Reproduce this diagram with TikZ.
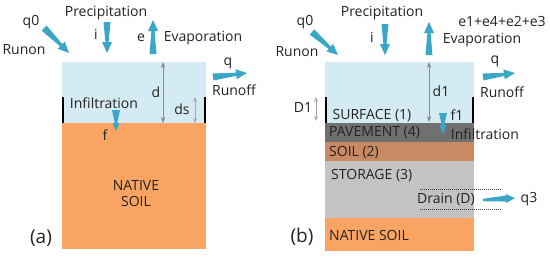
\documentclass[tikz,border=0pt]{standalone}
\usepackage{fontspec}
\setmainfont{Open Sans}
\usetikzlibrary{calc,arrows.meta}
\definecolor{water}{HTML}{D5EBF3}
\definecolor{native}{HTML}{F9A462}
\definecolor{pave}{HTML}{707070}
\definecolor{soilc}{HTML}{C98A63}
\definecolor{stor}{HTML}{C3C3C3}
\definecolor{flowc}{HTML}{3AA7C7}
\definecolor{txt}{HTML}{222222}
\definecolor{dimc}{HTML}{888888}
\definecolor{dimlc}{HTML}{A8A8A8}
% #1 tail, #2 tip, #3 tail half width, #4 neck half width, #5 head half width, #6 head length
\newcommand{\flowarrow}[6]{%
  \fill[flowc] ($(#1)!#3!90:(#2)$)
    -- ($($(#2)!#6!(#1)$)!#4!90:(#2)$)
    -- ($($(#2)!#6!(#1)$)!#5!90:(#2)$)
    -- (#2)
    -- ($($(#2)!#6!(#1)$)!#5!-90:(#2)$)
    -- ($($(#2)!#6!(#1)$)!#4!-90:(#2)$)
    -- ($(#1)!#3!-90:(#2)$) -- cycle;}
\begin{document}
\begin{tikzpicture}[x=1pt,y=-1pt,
  lbl/.style={font=\fontsize{14}{16}\selectfont, text=txt, inner sep=0pt},
  big/.style={font=\fontsize{19}{21}\selectfont, text=txt, inner sep=0pt},
  wall/.style={line width=2.6pt, black},
  dim/.style={dimc, line width=0.9pt, {Stealth[length=6pt,width=4.5pt]}-{Stealth[length=6pt,width=4.5pt]}},
  diml/.style={dimlc, line width=0.9pt, {Stealth[length=5pt,width=4pt]}-{Stealth[length=5pt,width=4pt]}},
  drainline/.style={black!75, line width=0.5pt, dash pattern=on 1pt off 1pt}]
\useasboundingbox (0,0) rectangle (550,257);
% ---------- panel (a) ----------
\fill[water] (62,62) rectangle (206,123);
\fill[native] (62,123) rectangle (206,249);
\draw[wall] (63,97) -- (63,123);
\draw[wall] (205,97) -- (205,123);
\coordinate (adtop) at (163,62); \coordinate (adbot) at (163,123);
\draw[dim] (adtop) -- (adbot);
\coordinate (adstop) at (195,97); \coordinate (adsbot) at (195,123);
\draw[diml] (adstop) -- (adsbot);
\coordinate (aq0t) at (44,28); \coordinate (aq0h) at (69,53);
\flowarrow{aq0t}{aq0h}{3.5pt}{1.6pt}{5pt}{11pt}
\coordinate (ait) at (107,22); \coordinate (aih) at (107,53);
\flowarrow{ait}{aih}{3.5pt}{1.6pt}{5pt}{11pt}
\coordinate (aet) at (153,54); \coordinate (aeh) at (153,20);
\flowarrow{aet}{aeh}{3.5pt}{1.6pt}{5pt}{11pt}
\coordinate (aqt) at (213,77); \coordinate (aqh) at (247,73);
\flowarrow{aqt}{aqh}{3.5pt}{1.6pt}{5pt}{11pt}
\coordinate (aft) at (116,110); \coordinate (afh) at (116,131);
\flowarrow{aft}{afh}{4pt}{1.2pt}{3.5pt}{8pt}
\node[lbl] (aq0) at (31,22) {q0};
\node[lbl] (arunon) at (24,50) {Runon};
\node[lbl] (aprec) at (106,13) {Precipitation};
\node[lbl] (ai) at (96,34) {i};
\node[lbl] (ae) at (141,38) {e};
\node[lbl] (aevap) at (203,38) {Evaporation};
\node[lbl] (aq) at (228,63) {q};
\node[lbl] (arunoff) at (234,90) {Runoff};
\node[lbl] (ad) at (156,92) {d};
\node[lbl] (ads) at (182,109) {ds};
\node[lbl] (ainf) at (104,103) {Infiltration};
\node[lbl] (af) at (105,135) {f};
\node[lbl, align=center] (anative) at (136,194) {NATIVE\\SOIL};
\node[big] (alabel) at (41,238) {(a)};
% ---------- panel (b) ----------
\fill[water] (325,62) rectangle (474,123);
\fill[pave] (325,123) rectangle (474,142);
\fill[soilc] (325,142) rectangle (474,161);
\fill[stor] (325,161) rectangle (474,218);
\fill[native] (325,218) rectangle (474,251);
\draw[wall] (326,97) -- (326,123);
\draw[wall] (473,97) -- (473,123);
\coordinate (bdtop) at (429,62); \coordinate (bdbot) at (429,122);
\draw[dim] (bdtop) -- (bdbot);
\coordinate (bDtop) at (316,97); \coordinate (bDbot) at (316,121);
\draw[diml] (bDtop) -- (bDbot);
\coordinate (dr1l) at (420,189); \coordinate (dr1r) at (501,189);
\coordinate (dr2l) at (420,209); \coordinate (dr2r) at (501,209);
\draw[drainline] (dr1l) -- (dr1r);
\draw[drainline] (dr2l) -- (dr2r);
\coordinate (bq0t) at (312,32); \coordinate (bq0h) at (338,55);
\flowarrow{bq0t}{bq0h}{3.5pt}{1.6pt}{5pt}{11pt}
\coordinate (bit) at (385,24); \coordinate (bih) at (385,55);
\flowarrow{bit}{bih}{3.5pt}{1.6pt}{5pt}{11pt}
\coordinate (bet) at (429,55); \coordinate (beh) at (429,22);
\flowarrow{bet}{beh}{3.5pt}{1.6pt}{5pt}{11pt}
\coordinate (bqt) at (483,77); \coordinate (bqh) at (515,73);
\flowarrow{bqt}{bqh}{3.5pt}{1.6pt}{5pt}{11pt}
\coordinate (bft) at (443,113); \coordinate (bfh) at (443,134);
\flowarrow{bft}{bfh}{4pt}{1.2pt}{3.5pt}{9pt}
\coordinate (bdrt) at (483,200); \coordinate (bdrh) at (515,198);
\flowarrow{bdrt}{bdrh}{1.2pt}{3pt}{4.5pt}{9pt}
\node[lbl] (bq0) at (305,22) {q0};
\node[lbl] (brunon) at (297,52) {Runon};
\node[lbl] (bprec) at (382,13) {Precipitation};
\node[lbl] (bi) at (372,37) {i};
\node[lbl] (bsum) at (502,21) {e1+e4+e2+e3};
\node[lbl] (bevap) at (482,40) {Evaporation};
\node[lbl] (bd1) at (441,91) {d1};
\node[lbl] (bq) at (495,61) {q};
\node[lbl] (brunoff) at (502,92) {Runoff};
\node[lbl] (bD1) at (303,108) {D1};
\node[lbl] (bsurf) at (372,116) {SURFACE (1)};
\node[lbl] (bf1) at (457,115) {f1};
\node[lbl] (binf) at (485,134) {Infiltration};
\node[lbl, anchor=west] (bpave) at (329,133) {PAVEMENT (4)};
\node[lbl, anchor=west] (bsoil) at (329,153) {SOIL (2)};
\node[lbl, anchor=west] (bstor) at (331,176) {STORAGE (3)};
\node[lbl] (bdrain) at (446,199) {Drain (D)};
\node[lbl] (bq3) at (529,199) {q3};
\node[lbl, anchor=west] (bnative) at (329,235) {NATIVE SOIL};
\node[big] (blabel) at (302,237) {(b)};
\end{tikzpicture}
\end{document}
